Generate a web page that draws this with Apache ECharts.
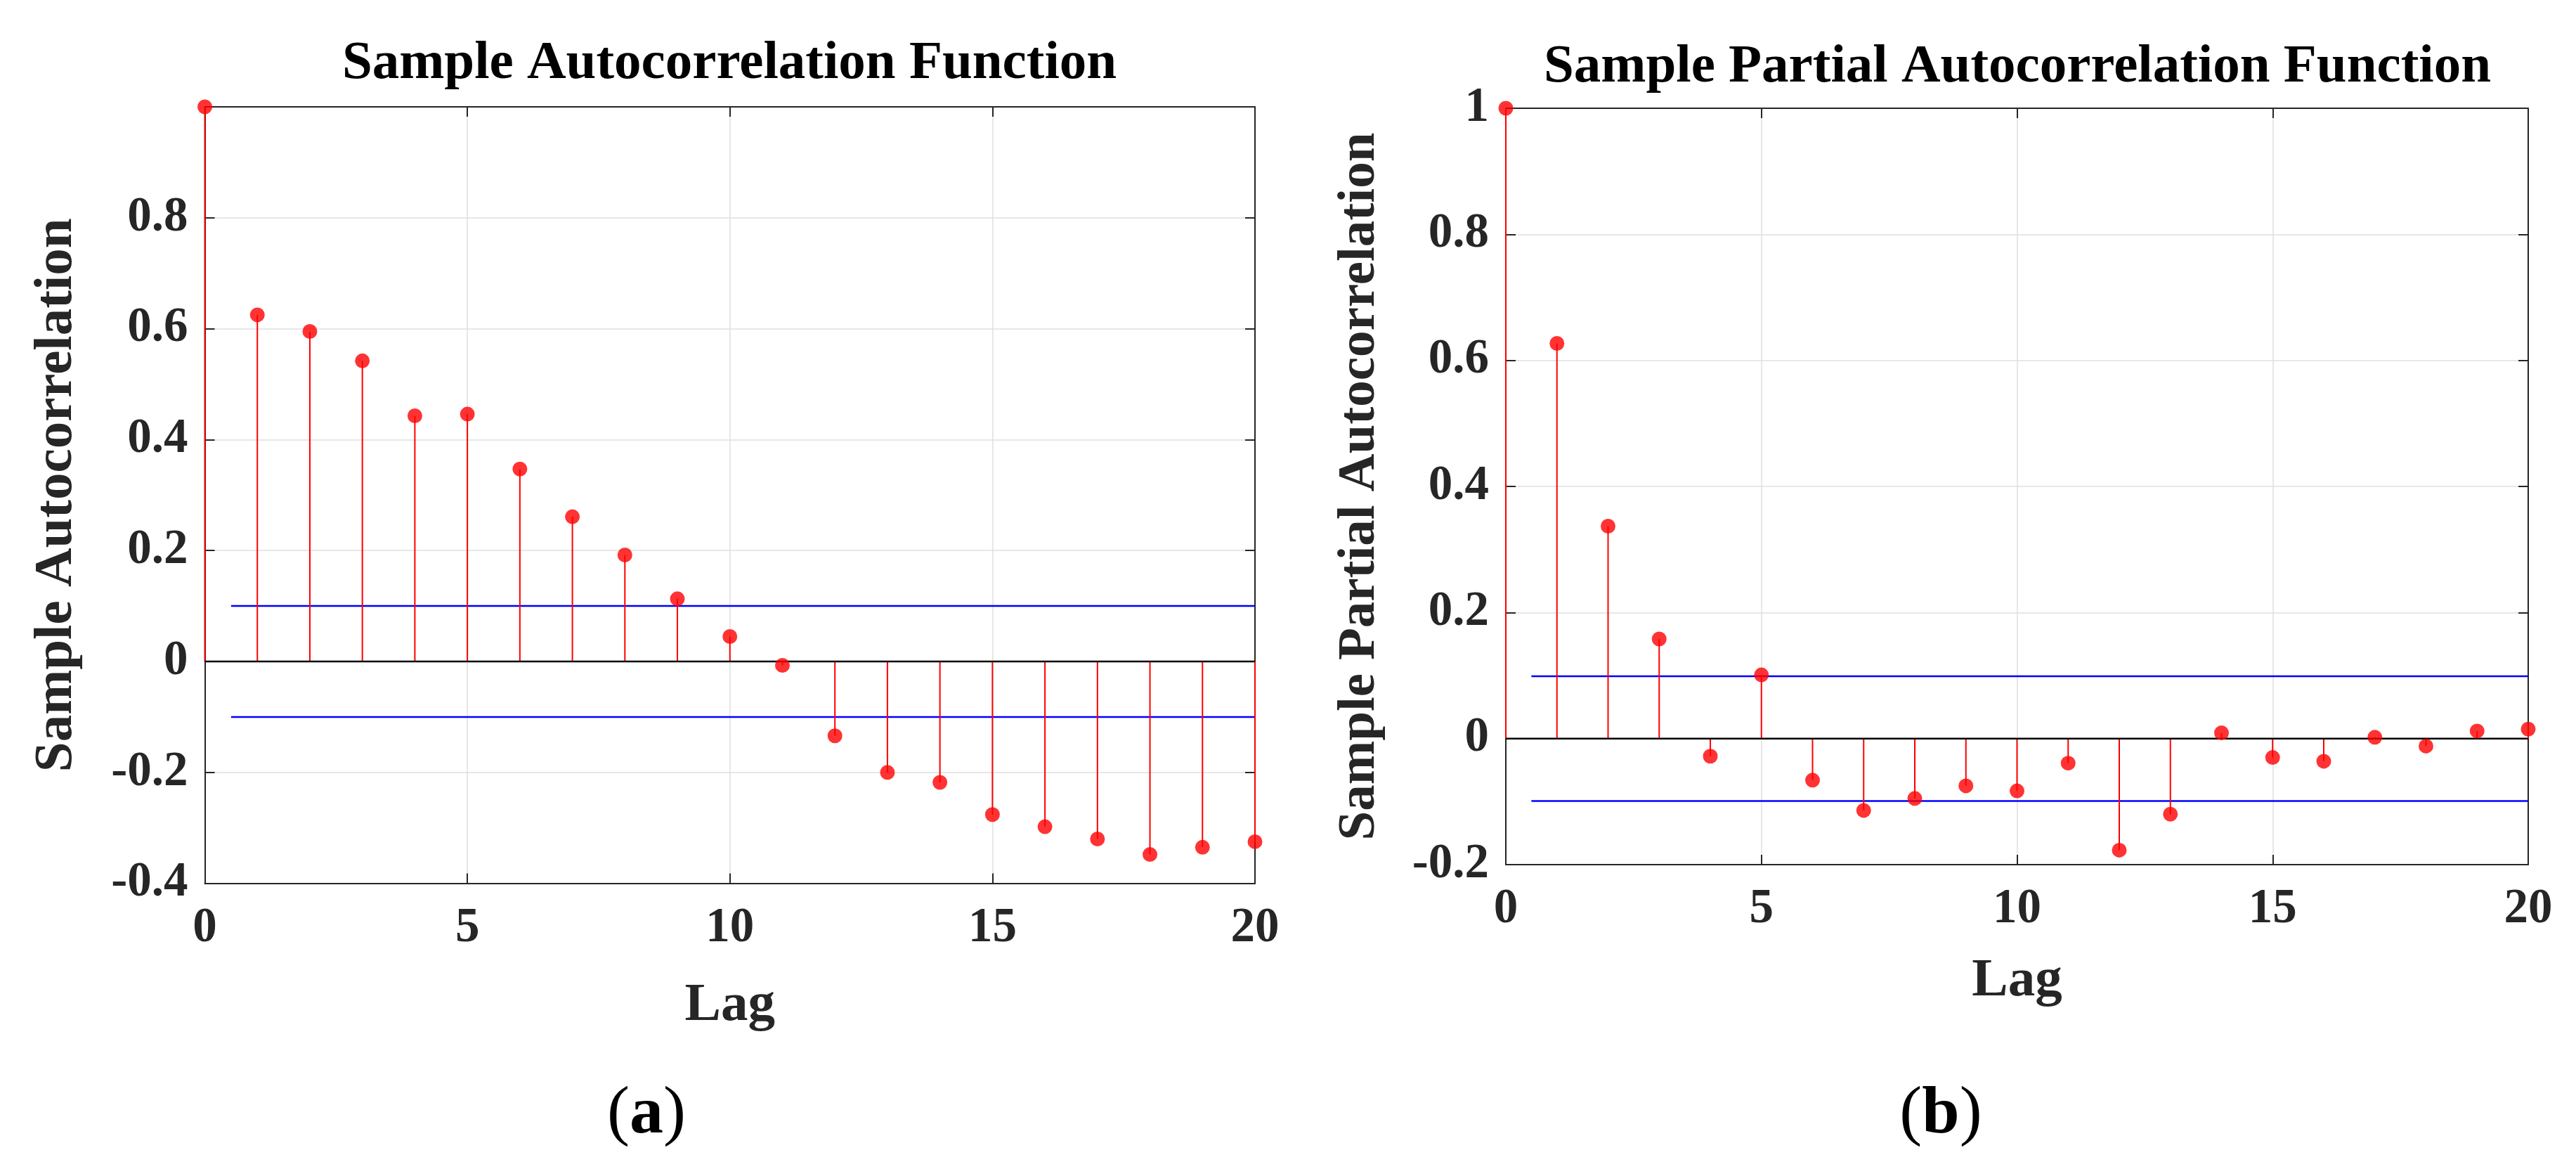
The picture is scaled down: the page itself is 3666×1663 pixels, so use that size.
<!DOCTYPE html>
<html>
<head>
<meta charset="utf-8">
<script src="https://cdn.jsdelivr.net/npm/echarts@6/dist/echarts.min.js"></script>
<style>
html,body{margin:0;padding:0;background:#ffffff;}
#chart{width:3666px;height:1663px;}
</style>
</head>
<body>
<div id="chart"></div>
<script>
// ---- data ----
const lags = [0,1,2,3,4,5,6,7,8,9,10,11,12,13,14,15,16,17,18,19,20];
const acfValues = [1.000, 0.625, 0.595, 0.542, 0.443, 0.446, 0.347, 0.261, 0.192, 0.113, 0.045,
                   -0.007, -0.134, -0.200, -0.218, -0.276, -0.298, -0.320, -0.348, -0.335, -0.325];
const pacfValues = [1.000, 0.627, 0.337, 0.158, -0.028, 0.101, -0.066, -0.114, -0.095, -0.075, -0.083,
                    -0.039, -0.177, -0.120, 0.009, -0.030, -0.036, 0.002, -0.012, 0.012, 0.015];
const acfBounds = [0.1, -0.1];
const pacfBounds = [0.099, -0.099];
const boundLagStart = 0.5;
const xTickInterval = 5;
const yTickInterval = 0.2;
const acfYRange = [-0.4, 1];
const pacfYRange = [-0.2, 1];
const titles = ['Sample Autocorrelation Function', 'Sample Partial Autocorrelation Function'];
const yNames = ['Sample Autocorrelation', 'Sample Partial Autocorrelation'];
const xName = 'Lag';
const panelLetters = ['a', 'b'];

// ---- styling ----
const FONT = '"Liberation Serif", "DejaVu Serif", serif';
const AX = '#262626';
const RED = '#ff0000';
const BLUE = '#0000ff';

const grids = [
  { left: 291.5, top: 152, width: 1494.5, height: 1104.6 },
  { left: 2143, top: 154, width: 1455, height: 1076 }
];

const panels = [
  { values: acfValues, bounds: acfBounds, yRange: acfYRange, hideTop: true },
  { values: pacfValues, bounds: pacfBounds, yRange: pacfYRange, hideTop: false }
];

const xAxes = [], yAxes = [], series = [];

panels.forEach((p, g) => {
  const lineStyle = { color: AX, width: 2 };
  xAxes.push({
    type: 'value', gridIndex: g, position: 'bottom',
    min: lags[0], max: lags[lags.length - 1], interval: xTickInterval,
    axisLine: { show: true, onZero: false, lineStyle },
    axisTick: { show: true, inside: true, length: 14, lineStyle },
    axisLabel: { fontFamily: FONT, fontSize: 69, fontWeight: 'bold', color: AX, margin: 30 },
    splitLine: { show: true, lineStyle: { color: '#dfdfdf', width: 1.5 } },
    name: xName, nameLocation: 'middle', nameGap: g === 0 ? 136 : 128,
    nameTextStyle: { fontFamily: FONT, fontSize: 77, fontWeight: 'bold', color: AX }
  });
  xAxes.push({
    type: 'value', gridIndex: g, position: 'top',
    min: lags[0], max: lags[lags.length - 1], interval: xTickInterval,
    axisLine: { show: true, onZero: false, lineStyle },
    axisTick: { show: true, inside: true, length: 14, lineStyle },
    axisLabel: { show: false }, splitLine: { show: false }
  });
  yAxes.push({
    type: 'value', gridIndex: g, position: 'left',
    min: p.yRange[0], max: p.yRange[1], interval: yTickInterval,
    axisLine: { show: true, onZero: false, lineStyle },
    axisTick: { show: true, inside: true, length: 14, lineStyle },
    axisLabel: {
      fontFamily: FONT, fontSize: 69, fontWeight: 'bold', color: AX, margin: 24,
      formatter: v => (p.hideTop && Math.abs(v - p.yRange[1]) < 1e-9) ? '' : String(Math.round(v * 10) / 10)
    },
    splitLine: { show: true, lineStyle: { color: '#dfdfdf', width: 1.5 } },
    name: yNames[g], nameLocation: 'middle', nameGap: g === 0 ? 172 : 170,
    nameTextStyle: { fontFamily: FONT, fontSize: g === 0 ? 77 : 75, fontWeight: 'bold', color: AX }
  });
  yAxes.push({
    type: 'value', gridIndex: g, position: 'right',
    min: p.yRange[0], max: p.yRange[1], interval: yTickInterval,
    axisLine: { show: true, onZero: false, lineStyle },
    axisTick: { show: true, inside: true, length: 14, lineStyle },
    axisLabel: { show: false }, splitLine: { show: false }
  });

  const xi = 2 * g, yi = 2 * g;
  const pts = lags.map((l, i) => [l, p.values[i]]);

  // confidence bounds
  p.bounds.forEach(b => {
    series.push({
      type: 'line', xAxisIndex: xi, yAxisIndex: yi, symbol: 'none', silent: true, z: 2,
      data: [[boundLagStart, b], [lags[lags.length - 1], b]],
      lineStyle: { color: BLUE, width: 2.5 }
    });
  });
  // stems
  series.push({
    type: 'custom', xAxisIndex: xi, yAxisIndex: yi, clip: false, z: 3,
    data: pts,
    encode: { x: 0, y: 1 },
    renderItem: (params, api) => {
      const x = api.value(0), y = api.value(1);
      const a = api.coord([x, 0]);
      const b = api.coord([x, y]);
      return { type: 'line', shape: { x1: a[0], y1: a[1], x2: b[0], y2: b[1] },
               style: { stroke: RED, lineWidth: 2 } };
    }
  });
  // zero baseline
  series.push({
    type: 'line', xAxisIndex: xi, yAxisIndex: yi, symbol: 'none', silent: true, z: 4,
    data: [[lags[0], 0], [lags[lags.length - 1], 0]],
    lineStyle: { color: '#000000', width: 2.5 }
  });
  // markers
  series.push({
    type: 'scatter', xAxisIndex: xi, yAxisIndex: yi, clip: false, z: 5,
    data: pts, symbol: 'circle', symbolSize: 21,
    itemStyle: { color: RED }
  });
});

const letterRich = {
  p: { fontFamily: FONT, fontSize: 96, color: '#000' },
  b: { fontFamily: FONT, fontSize: 96, fontWeight: 'bold', color: '#000' }
};
const graphics = [
  { type: 'text', x: 1038, y: 91, style: { text: titles[0], font: 'bold 77px ' + FONT, fill: '#000', align: 'center', verticalAlign: 'middle', textAlign: 'center', textVerticalAlign: 'middle' } },
  { type: 'text', x: 2871, y: 96, style: { text: titles[1], font: 'bold 77px ' + FONT, fill: '#000', align: 'center', verticalAlign: 'middle', textAlign: 'center', textVerticalAlign: 'middle' } },
  { type: 'text', x: 920, y: 1586, style: { text: '{p|(}{b|' + panelLetters[0] + '}{p|)}', align: 'center', verticalAlign: 'middle', textAlign: 'center', textVerticalAlign: 'middle', rich: letterRich } },
  { type: 'text', x: 2762, y: 1586, style: { text: '{p|(}{b|' + panelLetters[1] + '}{p|)}', align: 'center', verticalAlign: 'middle', textAlign: 'center', textVerticalAlign: 'middle', rich: letterRich } }
];

const chart = echarts.init(document.getElementById('chart'), null, { renderer: 'canvas' });
chart.setOption({
  backgroundColor: '#ffffff',
  animation: false,
  grid: grids,
  xAxis: xAxes,
  yAxis: yAxes,
  series: series,
  graphic: graphics
});
</script>
</body>
</html>
